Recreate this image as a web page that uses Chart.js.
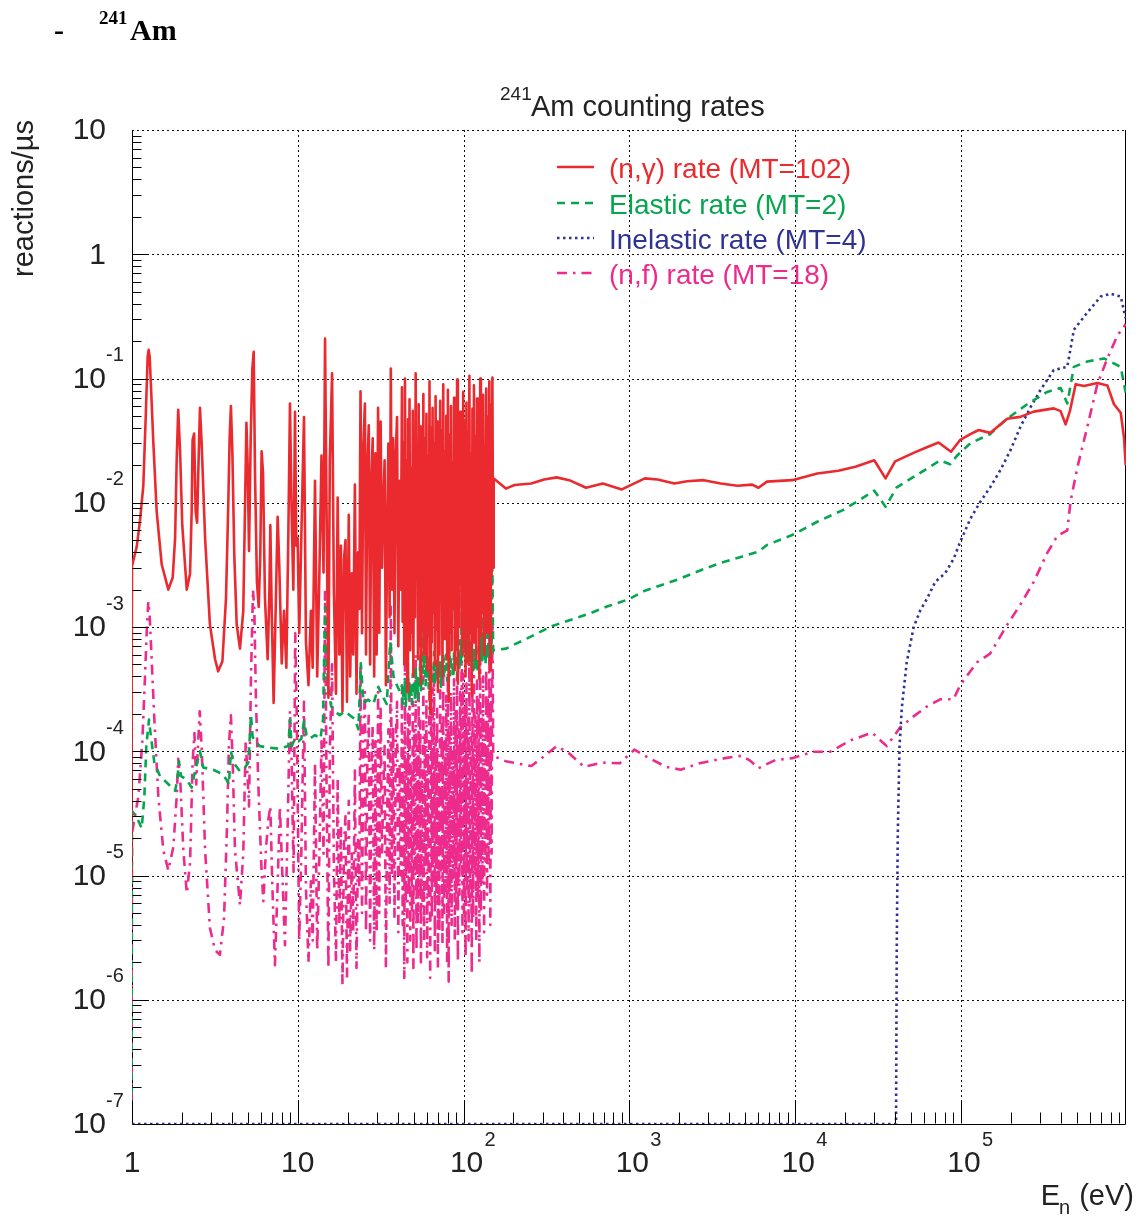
<!DOCTYPE html>
<html>
<head>
<meta charset="utf-8">
<title>241Am counting rates</title>
<script src="https://cdn.jsdelivr.net/npm/chart.js@4.4.0/dist/chart.umd.min.js"></script>
<style>
  html, body { margin: 0; padding: 0; background: #fff; }
  #wrap { position: relative; width: 1143px; height: 1216px; }
</style>
</head>
<body>
<div id="wrap"><canvas id="rates" width="1143" height="1216"></canvas></div>
<script>
// ---- axis layout values ----
var xMin = 1, xMax = 9.9e5;
var yMin = 1e-7, yMax = 10;
var xTickValues = [1, 10, 100, 1000, 1e4, 1e5];
var xTickBase = ['1', '10', '10', '10', '10', '10'];
var xTickExp = ['', '', '2', '3', '4', '5'];
var yTickValues = [10, 1, 1e-1, 1e-2, 1e-3, 1e-4, 1e-5, 1e-6, 1e-7];
var yTickBase = ['10', '1', '10', '10', '10', '10', '10', '10', '10'];
var yTickExp = ['', '', '-1', '-2', '-3', '-4', '-5', '-6', '-7'];

var legendLabels = ['(n,\u03b3) rate (MT=102)', 'Elastic rate (MT=2)', 'Inelastic rate (MT=4)', '(n,f) rate (MT=18)'];

// ---- energies (eV) shared by capture and fission between 10 and 42 eV ----
var midE = [10.2, 10.5, 10.9, 11.2, 11.6, 12.0, 12.3, 12.7, 13.1, 13.5,
  13.9, 14.3, 14.6, 14.9, 15.3, 15.6, 16.1, 16.5, 17.0, 17.4,
  17.8, 18.2, 18.6, 19.0, 19.4, 19.8, 20.3, 20.7, 21.2, 21.6,
  22.1, 22.6, 23.1, 23.5, 23.9, 24.4, 24.9, 25.4, 25.8, 26.3,
  26.8, 27.3, 27.8, 28.3, 28.9, 29.4, 29.9, 30.5, 31.0, 31.6,
  32.2, 32.8, 33.4, 34.0, 34.6, 35.2, 35.8, 36.4, 37.0, 37.6,
  38.3, 39.0, 39.7, 40.4, 41.1, 41.8];

// ---- energies (eV) through the dense resonance band, 42-151 eV ----
var denseE = [42.5, 42.9, 43.3, 43.9, 44.3, 44.8, 45.3, 45.8, 46.2, 46.7,
  47.2, 47.7, 48.2, 48.8, 49.4, 49.8, 50.3, 50.9, 51.4, 52.0,
  52.5, 53.1, 53.6, 54.2, 54.8, 55.3, 56.0, 56.6, 57.2, 57.8,
  58.4, 59.0, 59.7, 60.3, 61.1, 61.6, 62.3, 62.9, 63.6, 64.3,
  65.0, 65.7, 66.4, 67.1, 67.8, 68.6, 69.3, 70.0, 70.8, 71.5,
  72.3, 73.1, 73.8, 74.6, 75.4, 76.3, 77.1, 77.9, 78.7, 79.6,
  80.4, 81.3, 82.2, 83.0, 83.9, 84.7, 85.7, 86.7, 87.6, 88.5,
  89.5, 90.4, 91.4, 92.4, 93.3, 94.4, 95.4, 96.4, 97.4, 98.5,
  99.5, 100.6, 101.7, 102.8, 104.1, 105.0, 106.1, 107.2, 108.4, 109.5,
  110.7, 112.0, 113.1, 114.3, 115.5, 116.8, 118.0, 119.3, 120.6, 121.9,
  123.2, 124.5, 126.0, 127.2, 128.5, 129.9, 131.3, 133.0, 134.1, 135.6,
  137.0, 138.5, 140.0, 141.5, 143.0, 145.0, 146.1, 147.6, 149.2, 150.8];

// ---- (n,gamma) rate, reactions/us ----
var captureLowE = [0.99, 1.0, 1.067, 1.118, 1.17, 1.21, 1.243, 1.26, 1.278, 1.308,
  1.345, 1.409, 1.51, 1.656, 1.76, 1.82, 1.86, 1.90, 1.95, 2.01,
  2.14, 2.24, 2.29, 2.32, 2.37, 2.42, 2.47, 2.51, 2.57, 2.63,
  2.76, 2.95, 3.17, 3.31, 3.51, 3.69, 3.81, 3.88, 3.95, 4.03,
  4.14, 4.28, 4.48, 4.69, 4.80, 4.90, 4.99, 5.08, 5.20, 5.32,
  5.42, 5.52, 5.67, 5.81, 5.94, 6.05, 6.17, 6.34, 6.58, 6.73,
  6.83, 6.96, 7.15, 7.35, 7.56, 7.74, 8.0, 8.26, 8.53, 8.77,
  8.97, 9.18, 9.40, 9.62, 9.80, 9.98];
var captureLowRate = [9e-6, 3.1e-3, 4.4e-3, 7.2e-3, 1.37e-2, 4.9e-2, 0.15, 0.17, 0.15, 7.4e-2,
  3.05e-2, 8.5e-3, 3.2e-3, 2.0e-3, 2.5e-3, 5.2e-3, 2.2e-2, 5.6e-2, 2.6e-2, 6.6e-3,
  2.0e-3, 2.7e-3, 8.5e-3, 3.2e-2, 3.6e-2, 8.5e-3, 6.9e-3, 1.74e-2, 5.8e-2, 3.05e-2,
  5.2e-3, 1.05e-3, 5.5e-4, 4.4e-4, 5.3e-4, 1.7e-3, 1.0e-2, 3.3e-2, 6.0e-2, 2.6e-2,
  3.8e-3, 1.05e-3, 6.7e-4, 1.35e-3, 8.5e-3, 4.4e-2, 1.9e-2, 4.1e-3, 3.3e-2, 0.12,
  0.164, 1.74e-2, 2.3e-3, 1.45e-3, 3.8e-3, 2.6e-2, 1.74e-2, 1.7e-3, 5.5e-4, 1.7e-3,
  6.6e-3, 1.35e-3, 2.45e-4, 1.35e-3, 7.7e-3, 3.0e-3, 5.1e-4, 1.35e-3, 4.7e-4, 5.6e-3,
  6.3e-2, 8.5e-3, 2.0e-3, 5.4e-2, 4.5e-3, 5.2e-3];
var captureMidRate = [8.9e-4, 5.2e-3, 4.9e-2, 7.6e-4, 3.4e-4, 1.35e-3, 4.7e-4, 1.5e-2, 4.0e-4, 2.75e-3,
  2.4e-2, 2.75e-3, 0.21, 1.0e-2, 2.7e-4, 2.2e-2, 0.11, 2.0e-3, 2.9e-4, 1.1e-2,
  6.0e-4, 4.5e-3, 2.1e-4, 3.5e-3, 5.0e-3, 2.5e-4, 8.0e-3, 4.0e-4, 2.7e-3, 6.0e-4,
  1.4e-2, 2.9e-4, 4.0e-3, 1.4e-3, 7.9e-2, 8.9e-4, 3.0e-2, 6.3e-2, 6.0e-4, 2.0e-2,
  4.2e-2, 5.0e-4, 1.5e-2, 3.3e-2, 4.0e-4, 2.5e-2, 6.0e-4, 5.8e-2, 9.0e-4, 4.5e-2,
  3.0e-3, 1.0e-2, 2.2e-2, 3.4e-4, 6.0e-3, 3.0e-2, 1.2e-3, 0.12, 2.0e-3, 3.3e-2,
  8.9e-4, 2.5e-2, 4.9e-2, 7.0e-4, 1.5e-2, 2.0e-3];
var captureDenseRate = [0.085, 1.1e-3, 0.031, 5.0e-4, 0.10, 8.0e-4, 0.022, 3.0e-4, 0.047, 1.5e-3,
  0.068, 6.5e-4, 0.019, 9.0e-4, 0.055, 4.0e-4, 0.036, 1.2e-3, 0.11, 2.5e-3,
  0.028, 5.5e-4, 0.062, 7.0e-4, 0.041, 3.5e-4, 0.015, 1.0e-3, 0.075, 6.0e-4,
  0.033, 1.8e-3, 0.052, 4.5e-4, 0.024, 8.5e-4, 0.095, 2.0e-4, 0.040, 7.5e-4,
  0.058, 1.3e-3, 0.030, 5.0e-4, 0.072, 9.5e-4, 0.045, 3.0e-4, 0.018, 6.0e-4,
  0.066, 1.6e-3, 0.038, 4.0e-4, 0.090, 8.0e-4, 0.026, 1.1e-3, 0.050, 5.5e-4,
  0.081, 2.5e-4, 0.035, 9.0e-4, 0.060, 6.5e-4, 0.021, 1.4e-3, 0.070, 4.5e-4,
  0.043, 7.0e-4, 0.098, 3.5e-4, 0.032, 1.0e-3, 0.054, 2.2e-3, 0.027, 6.0e-4,
  0.078, 8.0e-4, 0.046, 4.0e-4, 0.064, 1.2e-3, 0.037, 5.0e-4, 0.105, 9.0e-4,
  0.025, 2.8e-4, 0.057, 7.5e-4, 0.088, 1.5e-3, 0.034, 5.5e-4, 0.069, 1.0e-3,
  0.048, 3.8e-4, 0.100, 8.5e-4, 0.039, 1.3e-3, 0.074, 6.0e-4, 0.029, 2.0e-3,
  0.083, 9.0e-4, 0.049, 1.7e-3, 0.095, 4.5e-4, 0.061, 2.6e-3, 0.102, 3.0e-3];
var captureHighE = [152, 180, 203, 256, 306, 364, 434, 548, 692, 900,
  1240, 1480, 1870, 2230, 2810, 3560, 4490, 5510, 6010, 6760,
  9600, 13600, 18200, 23100, 30000, 35100, 40100, 51800, 62300, 73300,
  87100, 99100, 114000, 128000, 150000, 190000, 228000, 275000, 363000, 399000,
  428000, 454000, 492000, 552000, 665000, 764000, 838000, 920000, 964000, 986000];
var captureHighRate = [1.57e-2, 1.30e-2, 1.39e-2, 1.43e-2, 1.54e-2, 1.60e-2, 1.52e-2, 1.32e-2, 1.43e-2, 1.28e-2,
  1.57e-2, 1.54e-2, 1.43e-2, 1.49e-2, 1.52e-2, 1.43e-2, 1.37e-2, 1.40e-2, 1.32e-2, 1.48e-2,
  1.52e-2, 1.72e-2, 1.81e-2, 1.95e-2, 2.20e-2, 1.57e-2, 2.15e-2, 2.52e-2, 2.80e-2, 3.05e-2,
  2.57e-2, 3.21e-2, 3.57e-2, 3.85e-2, 3.65e-2, 4.75e-2, 4.91e-2, 5.41e-2, 5.75e-2, 5.46e-2,
  4.28e-2, 5.46e-2, 9.0e-2, 8.7e-2, 9.2e-2, 8.8e-2, 6.2e-2, 5.3e-2, 3.3e-2, 2.0e-2];

// ---- elastic rate ----
var elasticLowE = [0.99, 1.0, 1.067, 1.144, 1.187, 1.22, 1.266, 1.302, 1.364, 1.475,
  1.618, 1.82, 1.876, 1.92, 1.975, 2.14, 2.29, 2.40, 2.57, 2.69,
  3.09, 3.47, 3.72, 3.84, 3.95, 4.09, 4.48, 4.80, 5.03, 5.22,
  5.34, 5.56, 5.9, 6.64, 7.63, 8.77, 8.97, 9.18, 9.62, 10.1,
  10.5, 10.9, 11.3, 11.8, 12.7, 13.7, 14.2, 14.5, 14.7, 14.9,
  15.3, 15.9, 16.7, 17.9, 19.2, 20.6, 22.2, 23.2, 24.0, 24.9,
  26.6, 28.6, 30.6, 32.8, 34.4, 36.1, 37.8, 39.6, 41.4];
var elasticLowRate = [1e-8, 3.3e-5, 2.95e-5, 2.4e-5, 4.3e-5, 1.1e-4, 1.8e-4, 1.3e-4, 8.1e-5, 6.3e-5,
  5.6e-5, 4.8e-5, 5.9e-5, 8.3e-5, 6.3e-5, 5.9e-5, 5.1e-5, 6.9e-5, 1.0e-4, 7.4e-5,
  7.1e-5, 6.6e-5, 5.9e-5, 5.4e-5, 1.0e-4, 8.1e-5, 6.9e-5, 7.4e-5, 8.1e-5, 1.95e-4,
  1.3e-4, 1.2e-4, 1.1e-4, 1.07e-4, 1.05e-4, 1.1e-4, 1.8e-4, 1.1e-4, 1.26e-4, 1.2e-4,
  1.26e-4, 1.74e-4, 1.35e-4, 1.26e-4, 1.35e-4, 1.26e-4, 1.8e-4, 8.9e-4, 1.45e-3, 5.5e-4,
  3.2e-4, 2.3e-4, 2.1e-4, 1.95e-4, 2.1e-4, 1.95e-4, 1.8e-4, 1.5e-4, 5.1e-4, 2.45e-4,
  2.6e-4, 2.4e-4, 3.3e-4, 2.7e-4, 2.4e-4, 7.6e-4, 4.0e-4, 3.4e-4, 3.0e-4];
var elasticDenseRate = [3.4e-4, 2.4e-4, 3.0e-4, 2.7e-4, 3.8e-4, 2.3e-4, 3.2e-4, 2.8e-4, 4.4e-4, 2.6e-4,
  3.6e-4, 3.0e-4, 3.3e-4, 2.4e-4, 4.2e-4, 2.9e-4, 3.5e-4, 2.7e-4, 4.8e-4, 3.0e-4,
  3.9e-4, 2.6e-4, 3.6e-4, 3.2e-4, 5.8e-4, 2.9e-4, 8.5e-4, 3.5e-4, 1.35e-3, 4.6e-4,
  6.2e-4, 3.4e-4, 5.0e-4, 3.9e-4, 4.5e-4, 3.2e-4, 6.0e-4, 3.8e-4, 4.9e-4, 3.5e-4,
  4.4e-4, 3.8e-4, 6.3e-4, 3.4e-4, 4.7e-4, 4.1e-4, 5.6e-4, 3.7e-4, 4.5e-4, 4.0e-4,
  5.4e-4, 3.3e-4, 4.9e-4, 4.3e-4, 6.1e-4, 3.9e-4, 5.2e-4, 4.5e-4, 6.0e-4, 3.7e-4,
  4.9e-4, 4.3e-4, 6.6e-4, 4.1e-4, 5.6e-4, 4.7e-4, 5.2e-4, 3.9e-4, 6.3e-4, 4.5e-4,
  5.4e-4, 4.9e-4, 6.9e-4, 4.2e-4, 5.9e-4, 4.7e-4, 7.8e-4, 5.1e-4, 1.2e-3, 5.8e-4,
  1.7e-3, 6.6e-4, 1.2e-3, 6.0e-4, 1.5e-3, 5.2e-4, 2.0e-3, 5.9e-4, 9.5e-4, 5.4e-4,
  6.6e-4, 4.8e-4, 5.8e-4, 4.5e-4, 7.0e-4, 5.0e-4, 6.2e-4, 4.7e-4, 5.6e-4, 4.3e-4,
  6.9e-4, 5.2e-4, 8.4e-4, 5.6e-4, 1.2e-3, 5.4e-4, 9.0e-4, 6.0e-4, 7.4e-4, 5.0e-4,
  6.6e-4, 5.6e-4, 1.3e-3, 5.8e-4, 7.0e-4, 5.3e-4, 1.5e-3, 6.2e-4, 3.5e-3, 6.4e-4];
var elasticHighE = [153, 180, 256, 343, 460, 580, 733, 1000, 1240, 1570,
  1980, 2650, 3560, 4760, 6010, 6760, 9600, 13600, 19400, 24400,
  30000, 35100, 41000, 56800, 75000, 86100, 94600, 114000, 150000, 190000,
  251000, 331000, 399000, 438000, 480000, 578000, 729000, 920000, 986000];
var elasticHighRate = [6.5e-4, 6.7e-4, 8.4e-4, 1.02e-3, 1.16e-3, 1.29e-3, 1.46e-3, 1.68e-3, 1.96e-3, 2.18e-3,
  2.42e-3, 2.84e-3, 3.29e-3, 3.68e-3, 4.04e-3, 4.57e-3, 5.50e-3, 7.03e-3, 8.73e-3, 1.05e-2,
  1.25e-2, 9.3e-3, 1.33e-2, 1.74e-2, 2.19e-2, 2.04e-2, 2.39e-2, 3.01e-2, 3.57e-2, 4.75e-2,
  6.2e-2, 7.8e-2, 8.4e-2, 6.3e-2, 0.124, 0.137, 0.145, 0.124, 7.7e-2];

// ---- inelastic rate (zero below threshold, drawn on the lower frame edge) ----
var inelasticE = [1, 40600, 41000, 41600, 42600, 44000, 47100, 51800, 56800, 62300,
  70000, 80400, 90300, 99100, 114000, 131000, 150000, 173000, 199000, 228000,
  263000, 302000, 363000, 438000, 480000, 578000, 696000, 800000, 920000, 986000];
var inelasticRate = [1e-7, 1e-7, 2.6e-6, 2.17e-5, 1.07e-4, 2.24e-4, 5.2e-4, 9.9e-4, 1.36e-3, 1.68e-3,
  2.31e-3, 2.71e-3, 3.53e-3, 4.86e-3, 7.43e-3, 1.02e-2, 1.33e-2, 1.83e-2, 2.65e-2, 4.06e-2,
  5.89e-2, 8.1e-2, 0.117, 0.124, 0.247, 0.339, 0.456, 0.481, 0.456, 0.305];

// ---- fission rate ----
var fissionLowE = [0.99, 1.0, 1.092, 1.154, 1.198, 1.232, 1.255, 1.278, 1.314, 1.364,
  1.442, 1.545, 1.656, 1.776, 1.86, 1.90, 1.96, 2.04, 2.14, 2.24,
  2.32, 2.38, 2.44, 2.50, 2.56, 2.63, 2.76, 2.95, 3.17, 3.39,
  3.59, 3.74, 3.84, 3.95, 4.05, 4.18, 4.48, 4.69, 4.85, 4.93,
  5.08, 5.22, 5.37, 5.47, 5.59, 5.78, 6.05, 6.2, 6.42, 6.64,
  6.83, 7.02, 7.28, 7.56, 7.80, 8.06, 8.37, 8.68, 8.97, 9.18,
  9.43, 9.65, 9.87];
var fissionLowRate = [1e-8, 2.2e-5, 4.3e-5, 1.2e-4, 4.0e-4, 1.05e-3, 1.6e-3, 1.23e-3, 5.5e-4, 1.8e-4,
  4.3e-5, 1.6e-5, 1.1e-5, 1.7e-5, 4.3e-5, 8.7e-5, 5.4e-5, 1.6e-5, 7.2e-6, 1.26e-5,
  8.1e-5, 1.4e-4, 5.4e-5, 1.1e-4, 2.1e-4, 1.1e-4, 1.6e-5, 3.8e-6, 2.5e-6, 2.3e-6,
  4.5e-6, 2.4e-5, 1.1e-4, 1.95e-4, 8.1e-5, 1.6e-5, 5.8e-6, 1.5e-5, 1.2e-4, 8.1e-5,
  3.6e-5, 4.0e-4, 2.0e-3, 1.35e-3, 2.7e-4, 5.4e-5, 1.07e-5, 6.2e-6, 1.6e-5, 2.8e-5,
  3.6e-5, 8.5e-6, 1.9e-6, 8.5e-6, 3.6e-5, 1.07e-5, 2.75e-6, 2.4e-5, 2.1e-4, 8.1e-5,
  1.07e-5, 8.9e-4, 1.8e-4];
var fissionMidRate = [3.0e-6, 1.5e-5, 2.5e-4, 8.0e-6, 2.0e-6, 9.0e-6, 3.0e-6, 8.0e-5, 2.5e-6, 1.5e-5,
  1.2e-4, 1.5e-5, 2.0e-3, 6.0e-5, 1.8e-6, 1.0e-4, 5.0e-4, 1.2e-5, 2.0e-6, 6.0e-5,
  4.0e-6, 2.5e-5, 1.3e-6, 1.8e-5, 3.0e-5, 1.5e-6, 4.0e-5, 2.5e-6, 1.5e-5, 3.5e-6,
  7.0e-5, 1.8e-6, 2.0e-5, 8.0e-6, 5.0e-4, 5.0e-6, 1.5e-4, 3.0e-4, 3.5e-6, 1.0e-4,
  2.0e-4, 3.0e-6, 7.0e-5, 1.6e-4, 2.5e-6, 1.2e-4, 3.5e-6, 3.0e-4, 5.0e-6, 2.2e-4,
  1.5e-5, 5.0e-5, 1.1e-4, 1.8e-6, 3.0e-5, 1.5e-4, 6.0e-6, 1.5e-3, 1.0e-5, 1.6e-4,
  4.5e-6, 1.2e-4, 2.5e-4, 3.5e-6, 8.0e-5, 1.0e-5];
var fissionDenseRate = [3.0e-4, 4.0e-6, 1.2e-4, 1.5e-6, 5.0e-4, 6.0e-6, 9.0e-5, 2.0e-6, 2.0e-4, 8.0e-6,
  3.5e-4, 3.0e-6, 8.0e-5, 5.0e-6, 2.5e-4, 1.8e-6, 1.5e-4, 1.0e-5, 6.0e-4, 2.5e-6,
  1.1e-4, 4.0e-6, 3.0e-4, 7.0e-6, 1.8e-4, 2.0e-6, 7.0e-5, 5.5e-6, 4.0e-4, 3.0e-6,
  1.4e-4, 1.2e-5, 2.6e-4, 2.2e-6, 1.0e-4, 6.0e-6, 5.5e-4, 1.5e-6, 2.0e-4, 4.5e-6,
  3.2e-4, 9.0e-6, 4.7e-4, 2.5e-6, 1.3e-4, 6.5e-6, 2.2e-4, 1.8e-6, 8.5e-5, 3.5e-6,
  3.6e-4, 1.1e-5, 1.7e-4, 2.8e-6, 5.0e-4, 5.0e-6, 1.2e-4, 7.5e-6, 2.8e-4, 2.0e-6,
  4.2e-4, 1.4e-6, 1.6e-4, 6.0e-6, 3.0e-4, 4.0e-6, 9.5e-5, 9.5e-6, 3.8e-4, 3.0e-6,
  2.1e-4, 5.5e-6, 4.4e-4, 2.0e-6, 1.5e-4, 7.0e-6, 3.0e-4, 1.2e-5, 2.0e-3, 3.5e-6,
  4.2e-4, 5.0e-6, 2.4e-4, 2.2e-6, 3.5e-4, 8.0e-6, 1.8e-4, 3.0e-6, 6.5e-4, 6.0e-6,
  1.3e-4, 1.6e-6, 3.1e-4, 4.5e-6, 5.0e-4, 1.0e-5, 1.9e-4, 3.0e-6, 3.7e-4, 6.5e-6,
  2.6e-4, 2.0e-6, 5.5e-4, 5.0e-6, 2.1e-4, 8.5e-6, 4.0e-4, 3.5e-6, 1.6e-4, 1.3e-5,
  4.6e-4, 7.0e-6, 2.8e-4, 1.2e-5, 1.0e-3, 4.0e-6, 3.3e-4, 1.5e-5, 1.5e-3, 1.0e-4];
var fissionHighE = [153, 180, 256, 306, 364, 434, 532, 692, 875, 1072,
  1315, 1663, 2040, 2650, 3770, 4760, 5350, 6010, 7600, 9600,
  12800, 16200, 21800, 29100, 35700, 42900, 51800, 62300, 75000, 90300,
  99100, 125000, 150000, 190000, 228000, 275000, 331000, 381000, 438000, 458000,
  504000, 578000, 665000, 764000, 879000, 986000];
var fissionHighRate = [9.1e-5, 8.3e-5, 7.6e-5, 9.1e-5, 1.10e-4, 9.6e-5, 7.5e-5, 8.1e-5, 8.0e-5, 1.03e-4,
  8.8e-5, 7.5e-5, 7.1e-5, 8.0e-5, 8.8e-5, 9.2e-5, 8.4e-5, 7.3e-5, 8.5e-5, 8.8e-5,
  9.9e-5, 9.9e-5, 1.23e-4, 1.41e-4, 1.10e-4, 1.55e-4, 1.91e-4, 2.29e-4, 2.62e-4, 2.62e-4,
  3.42e-4, 5.2e-4, 6.1e-4, 1.04e-3, 1.51e-3, 2.31e-3, 3.93e-3, 5.4e-3, 6.0e-3, 1.02e-2,
  1.93e-2, 4.06e-2, 9.0e-2, 0.145, 0.222, 0.274];

// ---- styles ----
var RED = '#ea2a2e', GREEN = '#06a64f', BLUE = '#2f3393', PINK = '#ec2b8d';
var SANS = '"Liberation Sans", Arial, sans-serif';
var SERIF = '"Liberation Serif", "Times New Roman", serif';

function toPoints(es, rs) {
  return es.map(function (e, i) { return { x: e, y: rs[i] }; });
}

var captureData = toPoints(captureLowE.concat(midE, denseE, captureHighE),
  captureLowRate.concat(captureMidRate, captureDenseRate, captureHighRate));
var elasticData = toPoints(elasticLowE.concat(denseE, elasticHighE),
  elasticLowRate.concat(elasticDenseRate, elasticHighRate));
var inelasticData = toPoints(inelasticE, inelasticRate);
var fissionData = toPoints(fissionLowE.concat(midE, denseE, fissionHighE),
  fissionLowRate.concat(fissionMidRate, fissionDenseRate, fissionHighRate));

var lineStyles = [
  { color: RED, dash: [] },
  { color: GREEN, dash: [8, 6] },
  { color: BLUE, dash: [2.5, 3.5] },
  { color: PINK, dash: [10, 6, 2.5, 6] }
];

function text(ctx, str, x, y, font, color, align, base) {
  ctx.font = font;
  ctx.fillStyle = color;
  ctx.textAlign = align || 'left';
  ctx.textBaseline = base || 'alphabetic';
  ctx.fillText(str, x, y);
}

// ROOT-like frame: dotted decade grid, inward ticks, 10^n labels, legend and titles
var rootFrame = {
  id: 'rootFrame',
  beforeDatasetsDraw: function (chart) {
    var ctx = chart.ctx, a = chart.chartArea, xs = chart.scales.x, ys = chart.scales.y;
    ctx.save();
    ctx.strokeStyle = '#111';
    ctx.lineWidth = 1;
    ctx.setLineDash([2, 3]);
    xTickValues.slice(1).forEach(function (v) {
      var px = Math.round(xs.getPixelForValue(v)) + 0.5;
      ctx.beginPath(); ctx.moveTo(px, a.top); ctx.lineTo(px, a.bottom); ctx.stroke();
    });
    yTickValues.slice(0, -1).forEach(function (v) {
      var py = Math.round(ys.getPixelForValue(v)) + 0.5;
      ctx.beginPath(); ctx.moveTo(a.left, py); ctx.lineTo(a.right, py); ctx.stroke();
    });

    // frame lines (left, bottom, right) sit under the curves
    ctx.setLineDash([]);
    ctx.strokeStyle = '#000';
    var L = Math.round(a.left) + 0.5, B = Math.round(a.bottom) + 0.5, R = Math.round(a.right) - 0.5;
    ctx.beginPath();
    ctx.moveTo(L, a.top); ctx.lineTo(L, B); ctx.lineTo(R, B); ctx.lineTo(R, a.top);
    ctx.stroke();
    ctx.restore();
  },
  afterDatasetsDraw: function (chart) {
    var ctx = chart.ctx, a = chart.chartArea, xs = chart.scales.x, ys = chart.scales.y;
    var L = Math.round(a.left) + 0.5, B = Math.round(a.bottom) + 0.5;
    ctx.save();
    ctx.setLineDash([]);
    ctx.strokeStyle = '#000';
    ctx.lineWidth = 1;

    // y ticks
    yTickValues.slice(1).forEach(function (base) {
      for (var m = 1; m <= 9; m++) {
        var py = Math.round(ys.getPixelForValue(base * m)) + 0.5;
        ctx.beginPath(); ctx.moveTo(L, py); ctx.lineTo(L + (m === 1 ? 16 : 9), py); ctx.stroke();
      }
    });
    // x ticks
    xTickValues.forEach(function (base) {
      for (var m = 1; m <= 9; m++) {
        if (base * m > xMax) break;
        var px = Math.round(xs.getPixelForValue(base * m)) + 0.5;
        ctx.beginPath(); ctx.moveTo(px, B - 1); ctx.lineTo(px, B - (m === 1 ? 24 : 12)); ctx.stroke();
      }
    });

    // y labels
    yTickValues.forEach(function (v, i) {
      var py = ys.getPixelForValue(v);
      text(ctx, yTickBase[i], 106, py + 1, '30px ' + SANS, '#222', 'right', 'middle');
      if (yTickExp[i]) text(ctx, yTickExp[i], 106, py - 23, '20px ' + SANS, '#222', 'left', 'middle');
    });
    // x labels
    xTickValues.forEach(function (v, i) {
      var px = xs.getPixelForValue(v);
      if (xTickExp[i]) {
        text(ctx, xTickBase[i], px + 3, 1164, '30px ' + SANS, '#222', 'center', 'middle');
        text(ctx, xTickExp[i], px + 21, 1140, '20px ' + SANS, '#222', 'left', 'middle');
      } else {
        text(ctx, xTickBase[i], px, 1164, '30px ' + SANS, '#222', 'center', 'middle');
      }
    });

    // axis titles
    ctx.save();
    ctx.translate(25, 120);
    ctx.rotate(-Math.PI / 2);
    text(ctx, 'reactions/\u00b5s', 0, 0, '29px ' + SANS, '#222', 'right', 'middle');
    ctx.restore();

    ctx.font = '29px ' + SANS;
    var wE = ctx.measureText('E').width, wTail = ctx.measureText(' (eV)').width;
    ctx.font = '20px ' + SANS;
    var wSub = ctx.measureText('n').width;
    var x0 = 1134 - (wE + wSub + wTail);
    text(ctx, 'E', x0, 1205, '29px ' + SANS, '#222');
    text(ctx, 'n', x0 + wE - 1, 1214, '20px ' + SANS, '#222');
    text(ctx, ' (eV)', x0 + wE + wSub, 1205, '29px ' + SANS, '#222');

    // plot title
    text(ctx, '241', 500, 100, '19px ' + SANS, '#222');
    text(ctx, 'Am counting rates', 531, 116, '29px ' + SANS, '#222');

    // page heading
    text(ctx, '-', 54, 40, 'bold 30px ' + SERIF, '#000');
    text(ctx, '241', 99, 24, 'bold 19px ' + SERIF, '#000');
    text(ctx, 'Am', 130, 40, 'bold 30px ' + SERIF, '#000');

    // legend
    var rows = [169, 205, 240, 275];
    legendLabels.forEach(function (lab, i) {
      var st = lineStyles[i];
      ctx.strokeStyle = st.color;
      ctx.lineWidth = 2.6;
      ctx.setLineDash(st.dash);
      ctx.beginPath(); ctx.moveTo(557, rows[i] - 2); ctx.lineTo(594, rows[i] - 2); ctx.stroke();
      ctx.setLineDash([]);
      text(ctx, lab, 609, rows[i] + 1, '28px ' + SANS, st.color, 'left', 'middle');
    });
    ctx.restore();
  }
};

function series(data, i) {
  return {
    label: legendLabels[i],
    data: data,
    borderColor: lineStyles[i].color,
    borderDash: lineStyles[i].dash,
    borderWidth: 2.6,
    borderJoinStyle: 'round',
    pointRadius: 0,
    tension: 0,
    fill: false
  };
}

new Chart(document.getElementById('rates').getContext('2d'), {
  type: 'line',
  data: {
    datasets: [
      series(captureData, 0),
      series(elasticData, 1),
      series(inelasticData, 2),
      series(fissionData, 3)
    ]
  },
  options: {
    responsive: false,
    animation: false,
    devicePixelRatio: 1,
    events: [],
    layout: { padding: { left: 132, right: 17, top: 130, bottom: 92 } },
    scales: {
      x: { type: 'logarithmic', min: xMin, max: xMax, display: false },
      y: { type: 'logarithmic', min: yMin, max: yMax, display: false }
    },
    plugins: {
      legend: { display: false },
      tooltip: { enabled: false },
      title: { display: false }
    }
  },
  plugins: [rootFrame]
});
</script>
</body>
</html>
